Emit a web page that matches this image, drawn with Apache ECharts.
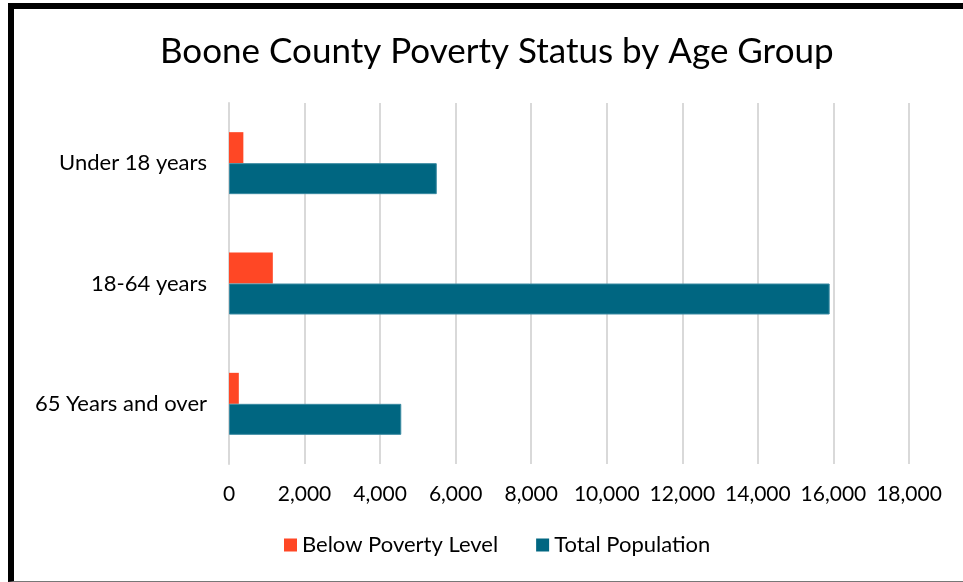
<!DOCTYPE html>
<html>
<head>
<meta charset="utf-8">
<script src="https://cdn.jsdelivr.net/npm/echarts@6/dist/echarts.min.js"></script>
<style>
  html, body { margin: 0; padding: 0; background: #fff; }
  #chart { width: 963px; height: 582px; }
  .frame {
    position: absolute;
    left: 8px; top: 3px;
    width: 970px; height: 572px;
    border-left: 6px solid #000;
    border-top: 6px solid #000;
    border-bottom: 1px solid #777;
    pointer-events: none;
  }
</style>
</head>
<body>
<div id="chart"></div>
<div class="frame"></div>
<script>
// age groups, top to bottom
const categories = ['Under 18 years', '18-64 years', '65 Years and over']
const belowPoverty = [380, 1160, 260]
const totalPopulation = [5500, 15900, 4560]
const xTicks = [0, 2000, 4000, 6000, 8000, 10000, 12000, 14000, 16000, 18000]

const font = 'Lato, "Open Sans", sans-serif'

const chart = echarts.init(document.getElementById('chart'))

chart.setOption({
  animation: false,
  title: {
    text: 'Boone County Poverty Status by Age Group',
    left: 155,
    top: 29,
    textStyle: { fontFamily: font, fontSize: 35, fontWeight: 'normal', color: '#000' }
  },
  grid: { left: 229, right: 54, top: 103, bottom: 118 },
  legend: {
    data: ['Below Poverty Level', 'Total Population'],
    bottom: 21,
    left: 279,
    itemWidth: 13,
    itemHeight: 13,
    itemGap: 38,
    icon: 'rect',
    itemStyle: { borderWidth: 0 },
    textStyle: { fontFamily: font, fontSize: 22, color: '#000' }
  },
  xAxis: {
    type: 'value',
    min: xTicks[0],
    max: xTicks[xTicks.length - 1],
    interval: 2000,
    axisLine: { show: false },
    axisTick: { show: false },
    axisLabel: {
      margin: 20,
      fontFamily: font,
      fontSize: 21,
      color: '#000',
      formatter: v => v.toLocaleString('en-US')
    },
    splitLine: { lineStyle: { color: '#d9d9d9', width: 2 } }
  },
  yAxis: {
    type: 'category',
    data: categories,
    inverse: true,
    axisLine: { show: true, lineStyle: { color: '#d9d9d9', width: 2 } },
    axisTick: { show: false },
    axisLabel: { margin: 22, fontFamily: font, fontSize: 22, color: '#000' }
  },
  series: [
    {
      name: 'Below Poverty Level',
      type: 'bar',
      data: belowPoverty,
      barWidth: 31,
      barGap: '0%',
      itemStyle: { color: '#ff4725' }
    },
    {
      name: 'Total Population',
      type: 'bar',
      data: totalPopulation,
      barWidth: 31,
      barGap: '0%',
      itemStyle: { color: '#006681', borderColor: '#3a8aa2', borderWidth: 1 }
    }
  ]
})
</script>
</body>
</html>
